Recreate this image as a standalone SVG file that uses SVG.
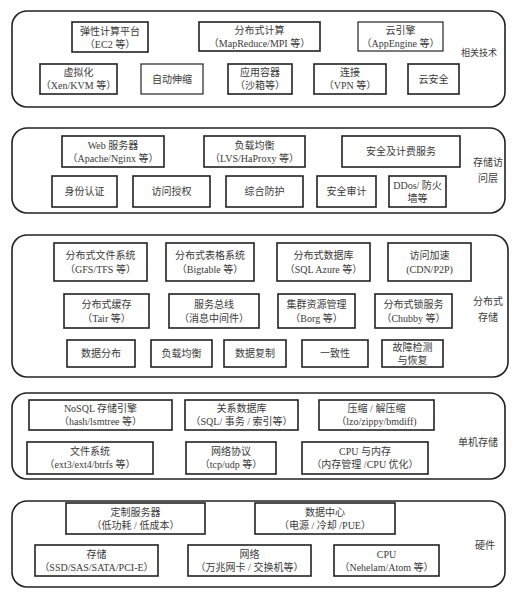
<svg xmlns="http://www.w3.org/2000/svg" width="515" height="598" viewBox="0 0 515 598">
<style>
text{font-family:"Liberation Serif","Noto Sans CJK SC",serif;font-size:10px;fill:#3a3a3a;text-anchor:middle}
.layer{fill:#fff;stroke:#222;stroke-width:1.6}
.box{fill:#fff;stroke:#222;stroke-width:1.6}
.thin{stroke-width:1.2}
.lbl{font-size:9px}
</style>
<rect width="515" height="598" fill="#fff"/>
<g id="layer-related">
<rect class="layer" x="12" y="11" width="493" height="96" rx="15"/>
<text class="lbl" x="479" y="56">相关技术</text>
</g>
<g id="n-ec2"><rect class="box" x="72" y="22" width="76" height="30"/><text x="110" y="34.5">弹性计算平台</text><text x="110" y="47.5">（EC2 等）</text></g>
<g id="n-mapreduce"><rect class="box" x="199" y="22" width="121" height="29"/><text x="259.5" y="34">分布式计算</text><text x="259.5" y="47">（MapReduce/MPI 等）</text></g>
<g id="n-appengine"><rect class="box thin" x="358" y="22" width="85" height="29"/><text x="400.5" y="34">云引擎</text><text x="400.5" y="47">（AppEngine 等）</text></g>
<g id="n-virt"><rect class="box" x="40" y="64" width="77" height="30"/><text x="78.5" y="76">虚拟化</text><text x="78.5" y="89">（Xen/KVM 等）</text></g>
<g id="n-autoscale"><rect class="box thin" x="141" y="64" width="62" height="30"/><text x="172" y="82.5">自动伸缩</text></g>
<g id="n-container"><rect class="box" x="228" y="64" width="64" height="30"/><text x="260" y="76">应用容器</text><text x="260" y="89">（沙箱等）</text></g>
<g id="n-vpn"><rect class="box" x="314" y="64" width="72" height="30"/><text x="350" y="76">连接</text><text x="350" y="89">（VPN 等）</text></g>
<g id="n-cloudsec"><rect class="box" x="408" y="64" width="51" height="30"/><text x="433.5" y="82.5">云安全</text></g>

<g id="layer-access">
<rect class="layer" x="12" y="128" width="493" height="85" rx="15"/>
<text x="488" y="166">存储访</text><text x="488" y="182">问层</text>
</g>
<g id="n-web"><rect class="box" x="62" y="136" width="102" height="31"/><text x="113" y="148.5">Web 服务器</text><text x="113" y="161.5">（Apache/Nginx 等）</text></g>
<g id="n-lb"><rect class="box" x="204" y="136" width="101" height="31"/><text x="254.5" y="148.5">负载均衡</text><text x="254.5" y="161.5">（LVS/HaProxy 等）</text></g>
<g id="n-billing"><rect class="box" x="342" y="136" width="118" height="31"/><text x="401" y="155">安全及计费服务</text></g>
<g id="n-auth"><rect class="box" x="52" y="176" width="65" height="31"/><text x="84.5" y="195">身份认证</text></g>
<g id="n-authz"><rect class="box" x="133" y="176" width="77" height="31"/><text x="171.5" y="195">访问授权</text></g>
<g id="n-protect"><rect class="box" x="226" y="176" width="77" height="31"/><text x="264.5" y="195">综合防护</text></g>
<g id="n-audit"><rect class="box" x="317" y="176" width="59" height="31"/><text x="346.5" y="195">安全审计</text></g>
<g id="n-ddos"><rect class="box" x="389" y="176" width="57" height="31"/><text x="417.5" y="188.5">DDos/ 防火</text><text x="417.5" y="201.5">墙等</text></g>

<g id="layer-distributed">
<rect class="layer" x="12" y="235" width="496" height="142" rx="15"/>
<text x="488" y="305">分布式</text><text x="488" y="321">存储</text>
</g>
<g id="n-gfs"><rect class="box" x="54" y="243" width="93" height="38"/><text x="100.5" y="258.5">分布式文件系统</text><text x="100.5" y="272.5">（GFS/TFS 等）</text></g>
<g id="n-bigtable"><rect class="box" x="166" y="243" width="88" height="38"/><text x="210" y="258.5">分布式表格系统</text><text x="210" y="272.5">（Bigtable 等）</text></g>
<g id="n-sqlazure"><rect class="box" x="277" y="243" width="93" height="38"/><text x="323.5" y="258.5">分布式数据库</text><text x="323.5" y="272.5">（SQL Azure 等）</text></g>
<g id="n-cdn"><rect class="box" x="388" y="243" width="83" height="38"/><text x="429.5" y="258.5">访问加速</text><text x="429.5" y="272.5">(CDN/P2P)</text></g>
<g id="n-tair"><rect class="box" x="64" y="294" width="85" height="34"/><text x="106.5" y="307.5">分布式缓存</text><text x="106.5" y="321.5">（Tair 等）</text></g>
<g id="n-bus"><rect class="box" x="169" y="294" width="90" height="34"/><text x="214" y="307.5">服务总线</text><text x="214" y="321.5">（消息中间件）</text></g>
<g id="n-borg"><rect class="box" x="278" y="294" width="77" height="34"/><text x="316.5" y="307.5">集群资源管理</text><text x="316.5" y="321.5">（Borg 等）</text></g>
<g id="n-chubby"><rect class="box" x="375" y="294" width="77" height="34"/><text x="413.5" y="307.5">分布式锁服务</text><text x="413.5" y="321.5">（Chubby 等）</text></g>
<g id="n-dist"><rect class="box" x="67" y="340" width="68" height="27"/><text x="101" y="357">数据分布</text></g>
<g id="n-lb2"><rect class="box" x="151" y="340" width="61" height="27"/><text x="181.5" y="357">负载均衡</text></g>
<g id="n-repl"><rect class="box" x="224" y="340" width="62" height="27"/><text x="255" y="357">数据复制</text></g>
<g id="n-consist"><rect class="box" x="302" y="340" width="66" height="27"/><text x="335" y="357">一致性</text></g>
<g id="n-fault"><rect class="box" x="382" y="340" width="61" height="27"/><text x="412.5" y="351">故障检测</text><text x="412.5" y="364">与恢复</text></g>

<g id="layer-single">
<rect class="layer" x="12" y="393" width="493" height="86" rx="15"/>
<text x="478" y="446">单机存储</text>
</g>
<g id="n-nosql"><rect class="box" x="29" y="400" width="143" height="30"/><text x="100.5" y="412">NoSQL 存储引擎</text><text x="100.5" y="425">（hash/lsmtree 等）</text></g>
<g id="n-rdb"><rect class="box" x="185" y="400" width="113" height="30"/><text x="241.5" y="412">关系数据库</text><text x="241.5" y="425">（SQL/ 事务 / 索引等）</text></g>
<g id="n-compress"><rect class="box" x="319" y="400" width="115" height="30"/><text x="376.5" y="412">压缩 / 解压缩</text><text x="376.5" y="425">（lzo/zippy/bmdiff)</text></g>
<g id="n-fs"><rect class="box" x="27" y="442" width="126" height="32"/><text x="90" y="454.5">文件系统</text><text x="90" y="468">（ext3/ext4/btrfs 等）</text></g>
<g id="n-netproto"><rect class="box" x="186" y="442" width="90" height="32"/><text x="231" y="454.5">网络协议</text><text x="231" y="468">（tcp/udp 等）</text></g>
<g id="n-cpumem"><rect class="box" x="302" y="442" width="126" height="32"/><text x="365" y="454.5">CPU 与内存</text><text x="365" y="468">（内存管理 /CPU 优化）</text></g>

<g id="layer-hardware">
<rect class="layer" x="12" y="501" width="493" height="86" rx="15"/>
<text x="485" y="549">硬件</text>
</g>
<g id="n-server"><rect class="box" x="66" y="503" width="139" height="31"/><text x="135.5" y="515.5">定制服务器</text><text x="135.5" y="528.5">（低功耗 / 低成本）</text></g>
<g id="n-dc"><rect class="box" x="255" y="503" width="140" height="31"/><text x="325" y="515.5">数据中心</text><text x="325" y="528.5">（电源 / 冷却 /PUE）</text></g>
<g id="n-storage"><rect class="box" x="35" y="545" width="123" height="31"/><text x="96.5" y="557.5">存储</text><text x="96.5" y="570.5">（SSD/SAS/SATA/PCI-E）</text></g>
<g id="n-network"><rect class="box" x="188" y="545" width="123" height="31"/><text x="249.5" y="557.5">网络</text><text x="249.5" y="570.5">（万兆网卡 / 交换机等）</text></g>
<g id="n-cpu"><rect class="box" x="334" y="545" width="105" height="31"/><text x="386.5" y="557.5">CPU</text><text x="386.5" y="570.5">（Nehelam/Atom 等）</text></g>

<g id="connectors"></g>
</svg>
